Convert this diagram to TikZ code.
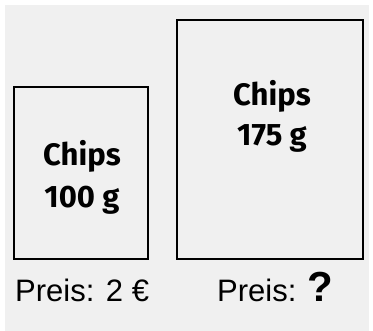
\documentclass[tikz,border=0pt]{standalone}
\usepackage{fontspec}
\setmainfont{Liberation Sans}
\newfontfamily\chipsfont{Fira Sans}
\usepackage{xcolor}
\usepackage{tikz}
\usetikzlibrary{positioning}

\definecolor{scanbg}{RGB}{240,240,240}

\begin{document}
\begin{tikzpicture}[x=1bp, y=-1bp,
  packbox/.style={draw, line width=2.9bp, inner sep=0pt},
  packtext/.style={font=\chipsfont\bfseries\fontsize{31bp}{36bp}\selectfont, anchor=base, inner sep=0pt},
  price/.style={font=\fontsize{31bp}{34bp}\selectfont, anchor=base west, inner sep=0pt},
]
  \useasboundingbox (0,0) rectangle (373,331);
  \fill[scanbg] (5,5) rectangle (369,331);

  % the two bags
  \node[packbox, minimum width=134bp, minimum height=172bp] (small) at (81,173) {};
  \node[packbox, minimum width=186bp, minimum height=239bp] (big) at (270,139.5) {};

  \node[packtext] (smallname) at (82,165) {Chips};
  \node[packtext] (smallweight) at (82,207) {100 g};
  \node[packtext] (bigname) at (272,105) {Chips};
  \node[packtext] (bigweight) at (272,145) {175 g};

  % prices
  \node[price] (smallprice) at (15,301) {Preis: 2 €};
  \node[price] (bigprice) at (217,301) {Preis: {\bfseries\fontsize{42bp}{42bp}\selectfont ?}};
\end{tikzpicture}
\end{document}
